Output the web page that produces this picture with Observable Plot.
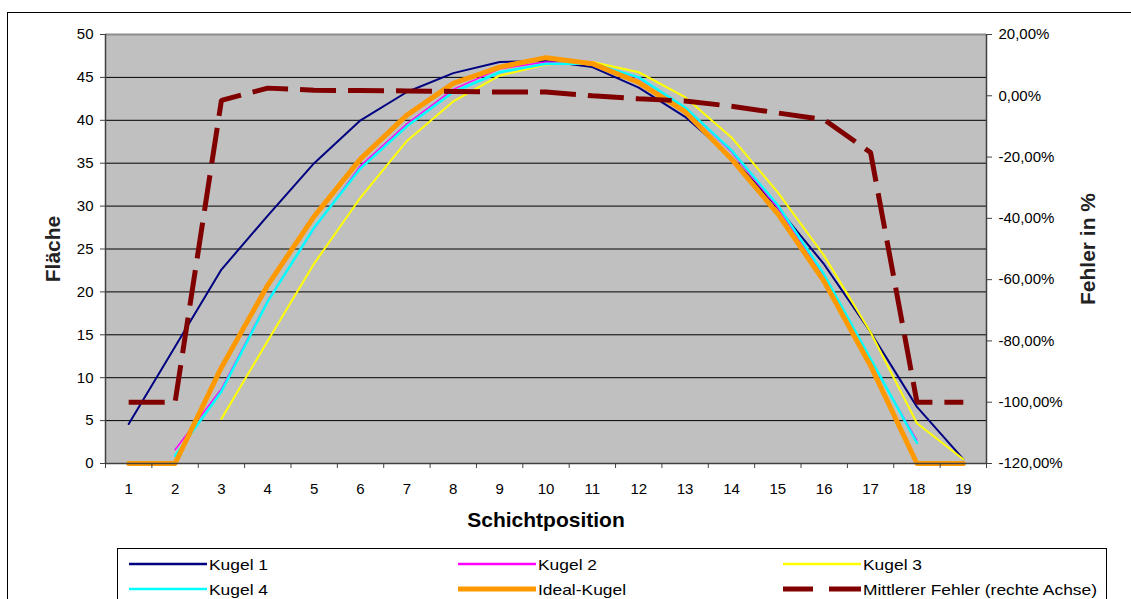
<!DOCTYPE html>
<html>
<head>
<meta charset="utf-8">
<script src="https://cdn.jsdelivr.net/npm/d3@7"></script>
<script src="https://cdn.jsdelivr.net/npm/@observablehq/plot@0.6"></script>
<style>
  html, body { margin: 0; padding: 0; background: #fff; overflow: hidden; }
  body { width: 1131px; height: 599px; position: relative; font-family: "Liberation Sans", Arial, sans-serif; }
  #chart { position: absolute; left: 0; top: 0; }
  #outer { position: absolute; left: 7px; top: 12px; width: 1300px; height: 800px; border-left: 1px solid #000; border-top: 1px solid #000; pointer-events: none; }
  #legend { position: absolute; left: 117px; top: 548px; width: 988px; height: 80px; border: 1px solid #000; background: #fff; font-size: 15px; }
  .item { position: absolute; height: 20px; width: 400px; }
  .item svg { position: absolute; left: 0; top: 0; }
  .item span { position: absolute; left: 80px; top: 2px; white-space: nowrap; color: #000; transform: scaleX(1.16); transform-origin: 0 50%; }
</style>
</head>
<body>
<div id="chart"></div>
<div id="outer"></div>
<div id="legend"></div>
<script>
// ---- data ----
const categories = [1, 2, 3, 4, 5, 6, 7, 8, 9, 10, 11, 12, 13, 14, 15, 16, 17, 18, 19];
const kugel1 = [4.6, 13.6, 22.6, 28.9, 35.0, 40.0, 43.3, 45.5, 46.8, 46.9, 46.2, 43.8, 40.4, 35.7, 29.8, 23.2, 15.3, 6.6, 0.5];
const kugel2 = [null, 1.6, 8.7, 19.0, 27.4, 34.7, 39.6, 43.6, 46.0, 46.8, 46.6, 44.9, 41.5, 36.3, 29.8, 21.8, 12.0, 2.7, null];
const kugel3 = [null, null, 5.2, 14.3, 23.3, 31.0, 37.6, 42.2, 45.2, 46.5, 46.8, 45.6, 42.7, 38.0, 31.6, 24.2, 15.3, 4.7, 0.5];
const kugel4 = [null, 0.9, 8.4, 18.9, 27.5, 34.4, 39.3, 43.3, 45.6, 46.6, 46.6, 45.0, 41.5, 36.5, 30.1, 22.0, 12.2, 2.4, null];
const idealKugel = [0, 0, 11.2, 20.8, 28.8, 35.5, 40.6, 44.3, 46.2, 47.3, 46.6, 44.4, 41.0, 35.5, 29.1, 21.2, 11.4, 0, 0];
const mittlererFehler = [-100, -100, -1.5, 2.5, 1.8, 1.7, 1.6, 1.4, 1.2, 1.2, 0.0, -1.0, -1.7, -3.4, -5.6, -7.8, -18.5, -100, -100]; // percent
const leftTicks = [0, 5, 10, 15, 20, 25, 30, 35, 40, 45, 50];
const rightTicks = [20, 0, -20, -40, -60, -80, -100, -120];
const seriesNames = ["Kugel 1", "Kugel 2", "Kugel 3", "Kugel 4", "Ideal-Kugel", "Mittlerer Fehler (rechte Achse)"];
const xLabel = "Schichtposition";
const yLeftLabel = "Fläche";
const yRightLabel = "Fehler in %";

// ---- styles ----
const colors = ["#000080", "#ff00ff", "#ffff00", "#00ffff", "#ff9900", "#800000"];
const widths = [2, 1.5, 2, 2.5, 5, 5];
const leftDomain = [0, 50];
const rightDomain = [-120, 20];
const toLeft = p => (p - rightDomain[0]) / (rightDomain[1] - rightDomain[0]) * (leftDomain[1] - leftDomain[0]) + leftDomain[0];
const fromLeft = v => (v - leftDomain[0]) / (leftDomain[1] - leftDomain[0]) * (rightDomain[1] - rightDomain[0]) + rightDomain[0];
const fmtPct = v => Math.round(fromLeft(v)).toFixed(2).replace(".", ",") + "%";

const seriesValues = [kugel1, kugel2, kugel3, kugel4, idealKugel];
const rows = v => categories.map((c, i) => ({x: c, y: v[i]}));
const bounds = categories.map(c => c - 0.5).concat([categories[categories.length - 1] + 0.5]);
const font = '"Liberation Sans", Arial, sans-serif';

const lineMarks = seriesValues.map((v, k) =>
  Plot.line(rows(v), {x: "x", y: "y", stroke: colors[k], strokeWidth: widths[k], strokeLinejoin: "round"})
);

const chart = Plot.plot({
  width: 1131,
  height: 545,
  marginTop: 34,
  marginLeft: 105,
  marginRight: 145,
  marginBottom: 82,
  x: {type: "linear", domain: [bounds[0], bounds[bounds.length - 1]]},
  y: {domain: leftDomain},
  style: {fontFamily: font, fontSize: "15px", background: "transparent", color: "#000"},
  marks: [
    Plot.frame({fill: "#c0c0c0", stroke: "none"}),
    Plot.ruleY(leftTicks.filter(v => v > leftDomain[0] && v < leftDomain[1]), {stroke: "#000", strokeWidth: 1}),
    Plot.ruleY([leftDomain[1]], {stroke: "#8c8c8c", strokeWidth: 2}),
    ...lineMarks,
    Plot.line(categories.map((c, i) => ({x: c, y: toLeft(mittlererFehler[i])})), {
      x: "x", y: "y", stroke: colors[5], strokeWidth: widths[5], strokeDasharray: "36,12", strokeLinecap: "butt", strokeLinejoin: "miter"
    }),
    Plot.ruleX([bounds[0]], {stroke: "#404040", strokeWidth: 1.5}),
    Plot.ruleX([bounds[bounds.length - 1]], {stroke: "#404040", strokeWidth: 1.5}),
    Plot.ruleY([leftDomain[0]], {stroke: "#404040", strokeWidth: 1.5}),
    Plot.axisY({ticks: leftTicks, anchor: "left", tickSize: 5, tickPadding: 7, label: null, stroke: "#404040"}),
    Plot.axisY({ticks: rightTicks.map(toLeft), anchor: "right", tickSize: 5, tickPadding: 7, label: null, tickFormat: fmtPct, stroke: "#404040"}),
    Plot.axisX({ticks: categories, anchor: "bottom", tickSize: 0, tickPadding: 20, label: null, tickFormat: d => String(d)}),
    Plot.axisX({ticks: bounds, anchor: "bottom", tickSize: 5, tickFormat: () => "", label: null, stroke: "#404040"}),
    Plot.text([yLeftLabel], {text: d => d, frameAnchor: "left", dx: -52, rotate: -90, textAnchor: "middle", fontSize: 21, fontWeight: "bold", fill: "#222"}),
    Plot.text([yRightLabel], {text: d => d, frameAnchor: "right", dx: 102, rotate: -90, textAnchor: "middle", fontSize: 21, fontWeight: "bold", fill: "#222"}),
    Plot.text([xLabel], {text: d => d, frameAnchor: "bottom", dy: 63, textAnchor: "middle", fontSize: 21, fontWeight: "bold", fill: "#000"})
  ]
});
document.getElementById("chart").appendChild(chart);

// ---- legend ----
const legend = document.getElementById("legend");
const legendPos = [[11, 15], [340, 15], [665, 15], [11, 40], [340, 40], [665, 40]];
seriesNames.forEach((name, k) => {
  const item = document.createElement("div");
  item.className = "item";
  item.style.left = legendPos[k][0] + "px";
  item.style.top = (legendPos[k][1] - 10) + "px";
  const w = k >= 4 ? 5 : Math.max(widths[k], 2.5);
  const line = k === 5
    ? `<line x1="0" x2="30" y1="10" y2="10" stroke="${colors[k]}" stroke-width="${w}"/><line x1="46" x2="78" y1="10" y2="10" stroke="${colors[k]}" stroke-width="${w}"/>`
    : `<line x1="0" x2="78" y1="10" y2="10" stroke="${colors[k]}" stroke-width="${w}"/>`;
  item.innerHTML = `<svg width="80" height="20">${line}</svg><span>${name}</span>`;
  legend.appendChild(item);
});
</script>
</body>
</html>
